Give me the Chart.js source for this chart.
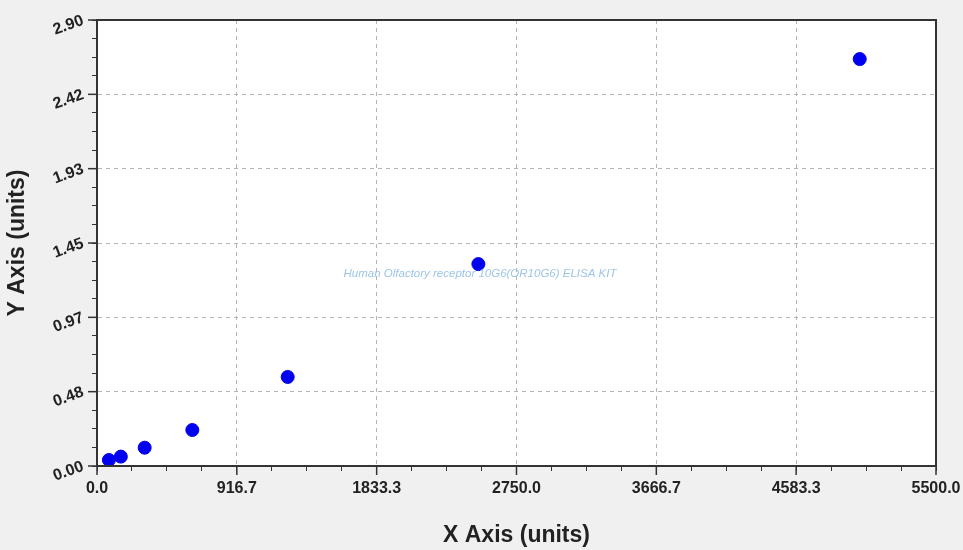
<!DOCTYPE html>
<html>
<head>
<meta charset="utf-8">
<script src="https://cdn.jsdelivr.net/npm/chart.js@4/dist/chart.umd.min.js"></script>
<style>
html,body{margin:0;padding:0;background:#f0f0f0;}
#wrap{width:963px;height:550px;position:relative;}
</style>
</head>
<body>
<div id="wrap"><canvas id="c" width="963" height="550"></canvas></div>
<script>
const xValues = [78.125, 156.25, 312.5, 625, 1250, 2500, 5000];
const yValues = [0.039, 0.061, 0.119, 0.234, 0.579, 1.313, 2.646];
const xMax = 5500;
const yMax = 2.90;
const majorDivisions = 6;
const minorPerMajor = 4;
const xAxisTitle = 'X Axis (units)';
const yAxisTitle = 'Y Axis (units)';
const watermark = 'Human Olfactory receptor 10G6(OR10G6) ELISA KIT';

const FONT = '"Liberation Sans", Arial, sans-serif';

function buildTicks(max) {
  const n = majorDivisions * minorPerMajor;
  const arr = [];
  for (let i = 0; i <= n; i++) arr.push({value: max * i / n, major: i % minorPerMajor === 0});
  return arr;
}
function isMajor(ctx) {
  return ctx.tick && ctx.index % minorPerMajor === 0;
}

const bgPlugin = {
  id: 'bg',
  beforeDraw(chart) {
    const {ctx, chartArea: a} = chart;
    ctx.save();
    ctx.fillStyle = '#f0f0f0';
    ctx.fillRect(0, 0, chart.width, chart.height);
    ctx.fillStyle = '#ffffff';
    ctx.fillRect(a.left, a.top, a.right - a.left, a.bottom - a.top);
    ctx.restore();
  },
  afterDatasetsDraw(chart) {
    const {ctx, chartArea: a} = chart;
    ctx.save();
    ctx.strokeStyle = '#333333';
    ctx.lineWidth = 2;
    ctx.strokeRect(a.left, a.top, a.right - a.left, a.bottom - a.top);
    ctx.lineWidth = 1.5;
    const xs = chart.scales.x, ys = chart.scales.y;
    xs.ticks.forEach((t, i) => {
      if (i % minorPerMajor) return;
      const px = xs.getPixelForValue(t.value);
      ctx.beginPath(); ctx.moveTo(px, a.bottom); ctx.lineTo(px, a.bottom + 9); ctx.stroke();
    });
    ys.ticks.forEach((t, i) => {
      if (i % minorPerMajor) return;
      const py = ys.getPixelForValue(t.value);
      ctx.beginPath(); ctx.moveTo(a.left, py); ctx.lineTo(a.left - 9, py); ctx.stroke();
    });
    ctx.font = 'italic 11.5px ' + FONT;
    ctx.fillStyle = '#9cc4e8';
    ctx.textAlign = 'center';
    ctx.textBaseline = 'middle';
    ctx.fillText(watermark, 480, 274);
    ctx.restore();
  }
};

new Chart(document.getElementById('c'), {
  type: 'scatter',
  data: {
    datasets: [{
      data: xValues.map((x, i) => ({x: x, y: yValues[i]})),
      backgroundColor: '#0000f0',
      borderColor: '#0000f0',
      pointRadius: 6.5,
      pointHoverRadius: 6.5
    }]
  },
  options: {
    responsive: false,
    animation: false,
    devicePixelRatio: 1,
    layout: {padding: {top: 20, right: 27, left: 0, bottom: 0}},
    plugins: {legend: {display: false}, tooltip: {enabled: false}},
    scales: {
      x: {
        type: 'linear',
        min: 0, max: xMax,
        afterBuildTicks(s) { s.ticks = buildTicks(xMax); },
        afterFit(s) { s.height = 84; s.paddingLeft = 0; s.paddingRight = 0; },
        ticks: {
          autoSkip: false, maxRotation: 0, minRotation: 0,
          color: '#222', padding: 8,
          font: {family: FONT, size: 16, weight: 'bold'},
          callback: (v, i) => i % minorPerMajor === 0 ? v.toFixed(1) : ''
        },
        grid: {
          color: ctx => isMajor(ctx) ? '#b4b4b4' : 'rgba(0,0,0,0)',
          tickColor: '#333',
          tickLength: 5,
          tickBorderDash: [],
          lineWidth: 1
        },
        border: {display: true, color: '#333', width: 2, dash: [4, 4]},
        title: {
          display: true, text: xAxisTitle, color: '#222',
          font: {family: FONT, size: 23, weight: 'bold'},
          padding: {top: 0, bottom: 1}
        }
      },
      y: {
        type: 'linear',
        min: 0, max: yMax,
        afterBuildTicks(s) { s.ticks = buildTicks(yMax); },
        afterFit(s) { s.width = 97; s.paddingTop = 0; s.paddingBottom = 0; },
        ticks: {
          autoSkip: false, minRotation: 20, maxRotation: 20,
          color: '#222', padding: 9,
          font: {family: FONT, size: 16, weight: 'bold'},
          callback: (v, i) => i % minorPerMajor === 0 ? v.toFixed(2) : ''
        },
        grid: {
          color: ctx => isMajor(ctx) ? '#b4b4b4' : 'rgba(0,0,0,0)',
          tickColor: '#333',
          tickLength: 5,
          tickBorderDash: [],
          lineWidth: 1
        },
        border: {display: true, color: '#333', width: 2, dash: [4, 4]},
        title: {
          display: true, text: yAxisTitle, color: '#222',
          font: {family: FONT, size: 23, weight: 'bold'},
          padding: {top: 4, bottom: 0}
        }
      }
    }
  },
  plugins: [bgPlugin]
});
</script>
</body>
</html>
